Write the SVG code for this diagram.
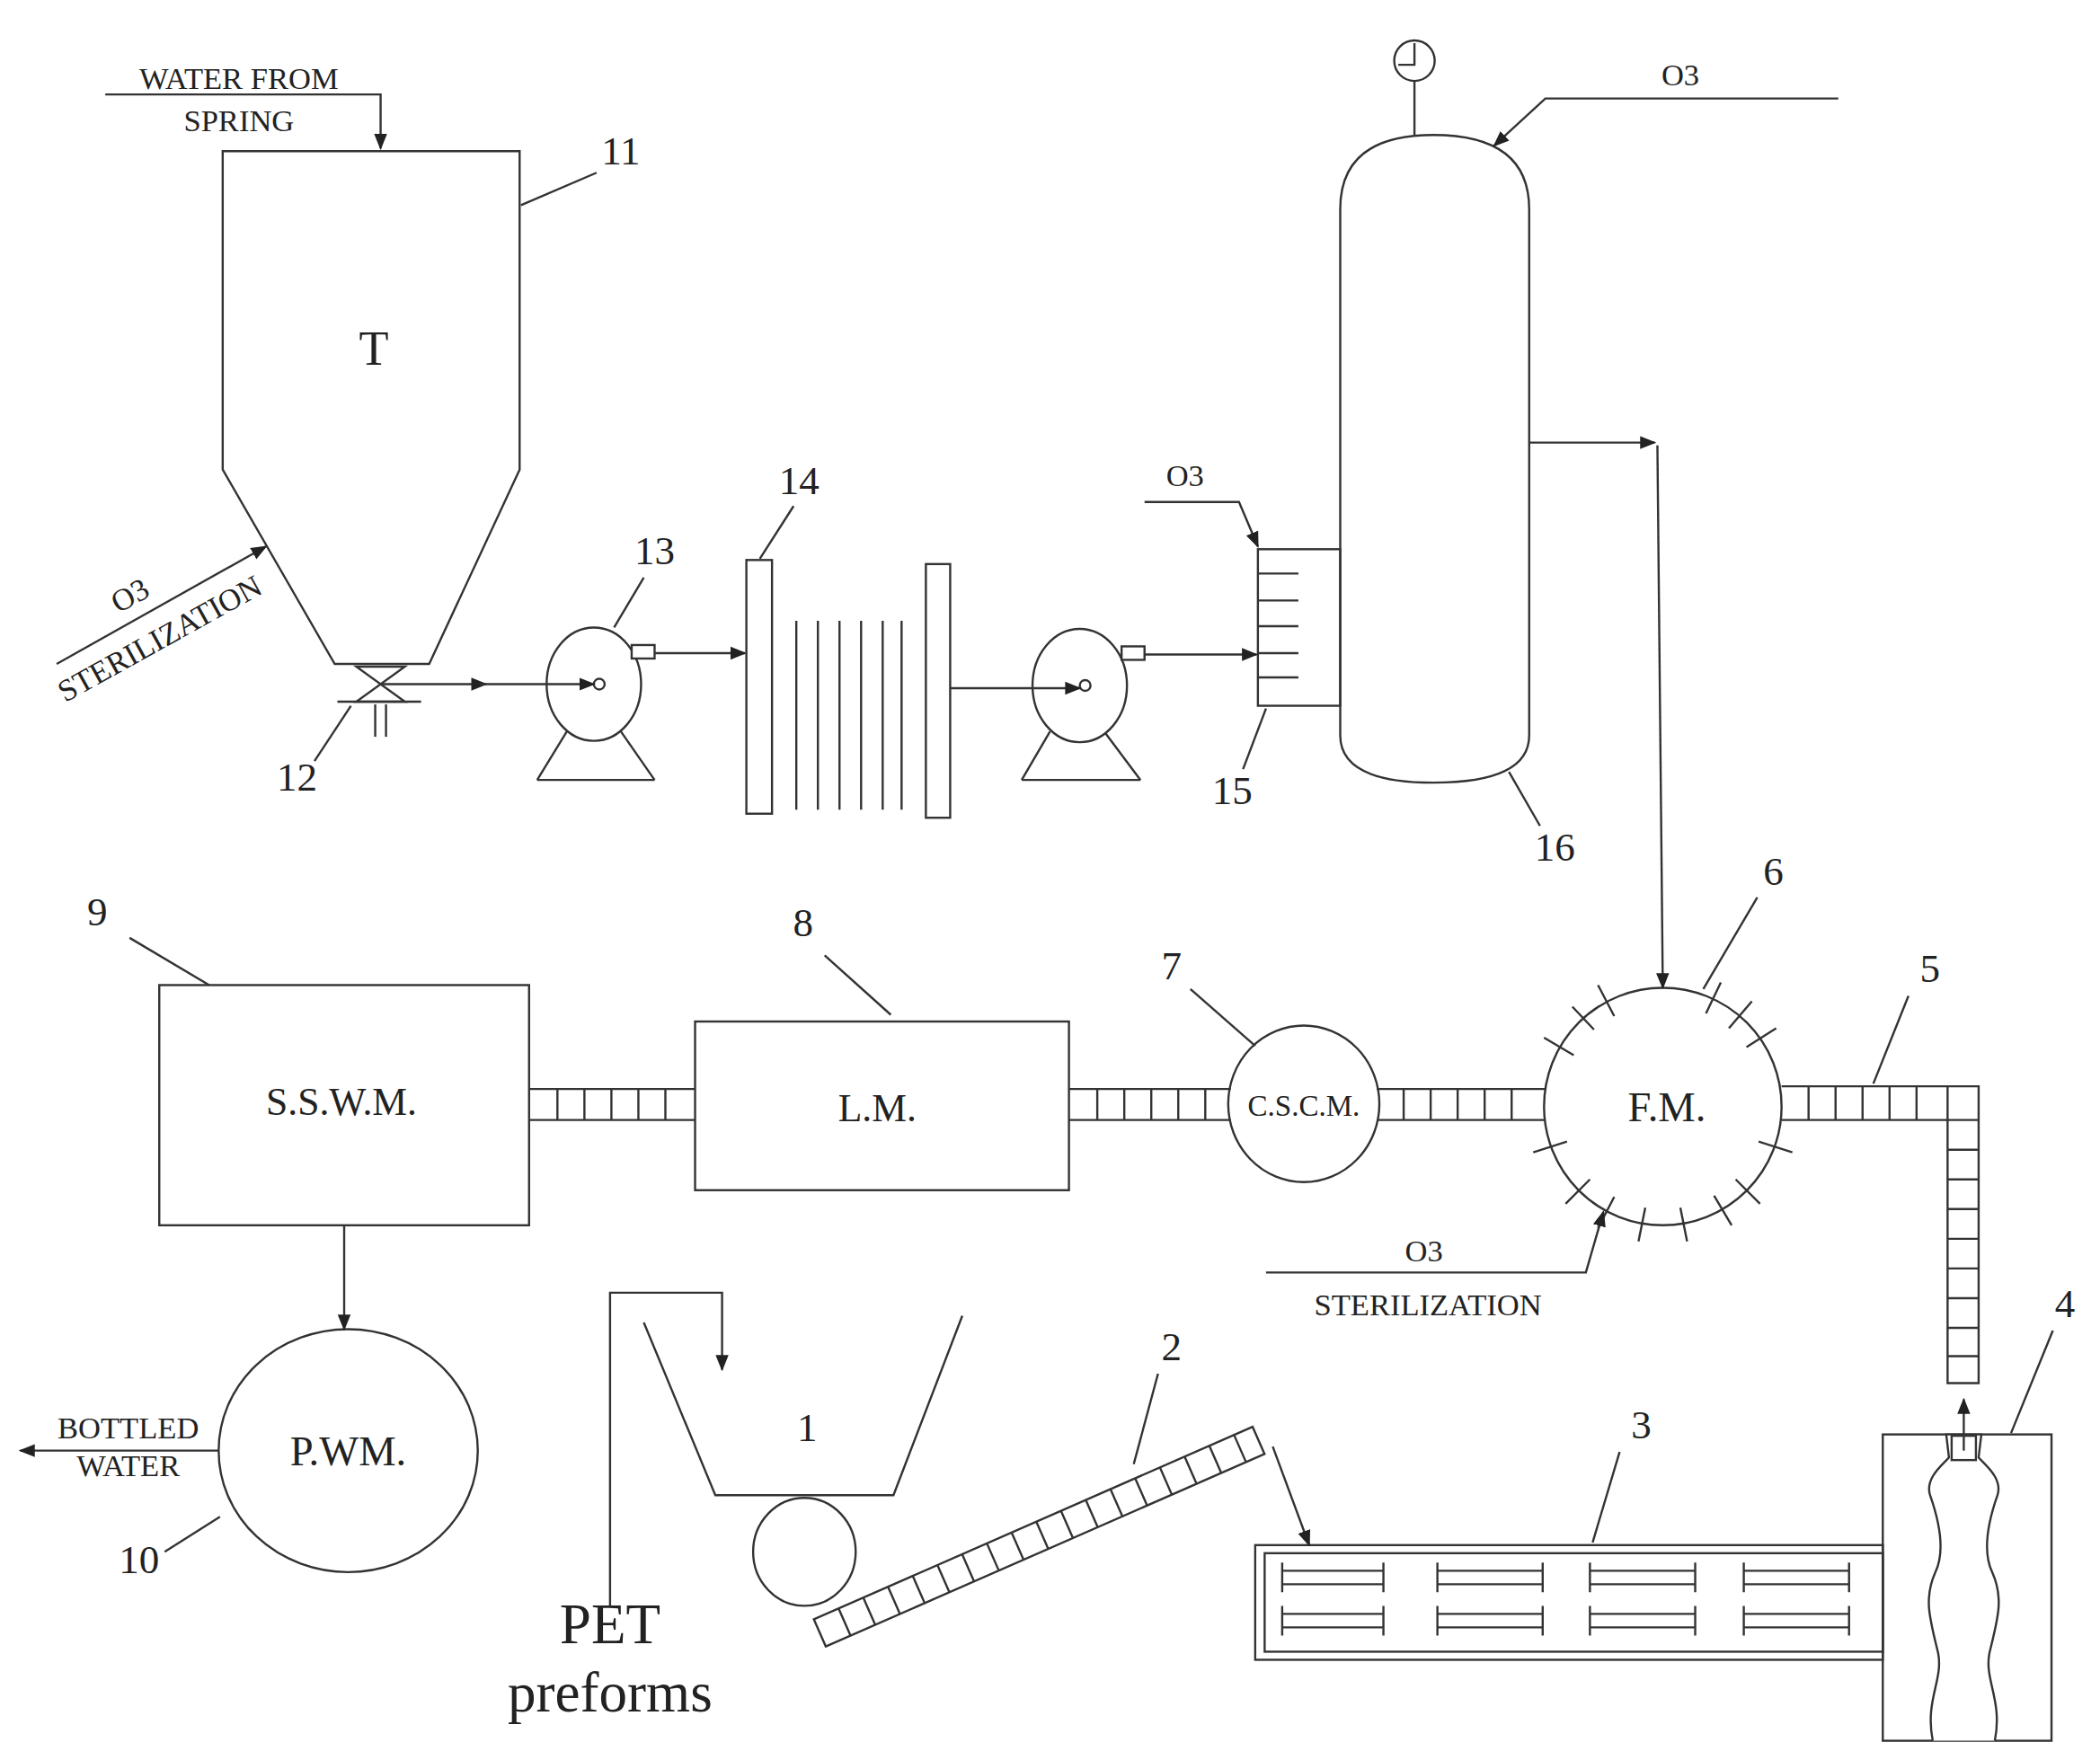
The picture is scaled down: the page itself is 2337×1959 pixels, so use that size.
<svg xmlns="http://www.w3.org/2000/svg" width="2337" height="1959" viewBox="0 0 2337 1959">
<style>
.s{fill:none;stroke:#333;stroke-width:1.6}
.w{fill:#fff;stroke:#333;stroke-width:1.6}
text{font-family:"Liberation Serif",serif;fill:#222}
.n{font-size:30px}
.l{font-size:29px}
.m{font-size:23px}
</style>
<defs>
<marker id="a" viewBox="0 0 10 10" refX="9" refY="5" markerWidth="12" markerHeight="12" markerUnits="userSpaceOnUse" orient="auto"><path d="M0,1 L10,5 L0,9 Z" fill="#222"/></marker>
</defs>
<rect width="2337" height="1959" fill="#fff"/>
<g transform="scale(1.502)">
<g id="tank11">
<polygon class="s" points="165,112 385,112 385,348 318,492 248,492 165,348"/>
<text x="277" y="270" font-size="36" text-anchor="middle">T</text>
<text class="n" x="460" y="122" text-anchor="middle">11</text>
<line class="s" x1="386" y1="152" x2="442" y2="128"/>
</g>
<g id="valve12">
<path class="s" d="M264,494 L300,494 L264,520 L300,520 Z"/>
<line class="s" x1="250" y1="520" x2="312" y2="520"/>
<line class="s" x1="278" y1="522" x2="278" y2="546"/><line class="s" x1="286" y1="522" x2="286" y2="546"/>
<text class="n" x="220" y="586" text-anchor="middle">12</text>
<line class="s" x1="233" y1="564" x2="260" y2="523"/>
</g>
<g id="pump13">
<line class="s" x1="420" y1="542" x2="398" y2="578"/><line class="s" x1="460" y1="542" x2="485" y2="578"/><line class="s" x1="398" y1="578" x2="485" y2="578"/>
<ellipse class="w" cx="440" cy="507" rx="35" ry="42"/>
<circle class="s" cx="444" cy="507" r="4"/>
<rect class="w" x="468" y="478" width="17" height="10"/>
<text class="n" x="485" y="418" text-anchor="middle">13</text>
<line class="s" x1="477" y1="428" x2="455" y2="465"/>
</g>
<g id="filter14">
<rect class="s" x="553" y="415" width="19" height="188"/>
<rect class="s" x="686" y="418" width="18" height="188"/>
<path class="s" d="M590,460V600M606,460V600M622,460V600M638,460V600M654,460V600M668,460V600"/>
<text class="n" x="592" y="366" text-anchor="middle">14</text>
<line class="s" x1="588" y1="375" x2="563" y2="414"/>
</g>
<g id="pump2">
<line class="s" x1="778" y1="542" x2="757" y2="578"/><line class="s" x1="818" y1="542" x2="845" y2="578"/><line class="s" x1="757" y1="578" x2="845" y2="578"/>
<ellipse class="w" cx="800" cy="508" rx="35" ry="42"/>
<circle class="s" cx="804" cy="508" r="4"/>
<rect class="w" x="831" y="479" width="17" height="10"/>
</g>
<g id="ozonator15">
<rect class="s" x="932" y="407" width="61" height="116"/>
<path class="s" d="M932,425H962M932,445H962M932,464H962M932,484H962M932,502H962"/>
<text class="n" x="913" y="596" text-anchor="middle">15</text>
<line class="s" x1="921" y1="570" x2="938" y2="525"/>
</g>
<g id="vessel16">
<path class="s" d="M993,155 Q993,100 1062,100 Q1133,100 1133,155 L1133,545 Q1133,580 1062,580 Q993,580 993,545 Z"/>
<circle class="s" cx="1048" cy="45" r="15"/>
<path class="s" d="M1048,32V48H1036M1048,60V100"/>
<text class="n" x="1152" y="638" text-anchor="middle">16</text>
<line class="s" x1="1118" y1="572" x2="1141" y2="612"/>
</g>
<g id="sswm9">
<rect class="s" x="118" y="730" width="274" height="178"/>
<text class="l" x="253" y="826" text-anchor="middle">S.S.W.M.</text>
<text class="n" x="72" y="686" text-anchor="middle">9</text>
<line class="s" x1="96" y1="695" x2="155" y2="730"/>
</g>
<g id="lm8">
<rect class="s" x="515" y="757" width="277" height="125"/>
<text class="l" x="650" y="831" text-anchor="middle">L.M.</text>
<text class="n" x="595" y="694" text-anchor="middle">8</text>
<line class="s" x1="611" y1="708" x2="660" y2="752"/>
</g>
<g id="cscm7">
<ellipse class="s" cx="966" cy="818" rx="56" ry="58"/>
<text x="966" y="827" font-size="22" text-anchor="middle">C.S.C.M.</text>
<text class="n" x="868" y="726" text-anchor="middle">7</text>
<line class="s" x1="882" y1="733" x2="930" y2="775"/>
</g>
<g id="fm6">
<circle class="s" cx="1232" cy="820" r="88"/>
<path class="s" d="M1166,782L1144,769M1181,763L1165,746M1196,753L1184,730M1264,751L1275,728M1281,762L1298,742M1294,776L1316,762M1303,846L1328,854M1286,874L1304,892M1270,886L1283,908M1245,895L1250,920M1219,895L1214,920M1196,887L1184,910M1178,874L1160,892M1161,846L1136,854"/>
<text x="1235" y="831" font-size="31" text-anchor="middle">F.M.</text>
<text class="n" x="1314" y="656" text-anchor="middle">6</text>
<line class="s" x1="1302" y1="665" x2="1262" y2="733"/>
</g>
<g id="pwm10">
<ellipse class="s" cx="258" cy="1075" rx="96" ry="90"/>
<text x="258" y="1086" font-size="31" text-anchor="middle">P.WM.</text>
<text class="n" x="103" y="1166" text-anchor="middle">10</text>
<line class="s" x1="122" y1="1150" x2="163" y2="1124"/>
<text class="m" x="95" y="1066" text-anchor="middle">BOTTLED</text>
<text class="m" x="95" y="1094" text-anchor="middle">WATER</text>
</g>
<g id="hopper1">
<path class="s" d="M477,980L530,1108H662L713,975"/>
<text class="n" x="598" y="1068" text-anchor="middle">1</text>
<ellipse class="s" cx="596" cy="1150" rx="38" ry="40"/>
<text x="452" y="1218" font-size="42" text-anchor="middle">PET</text>
<text x="452" y="1268" font-size="42" text-anchor="middle">preforms</text>
</g>
<g id="conveyor2">
<g transform="translate(603,1200) rotate(-23.7)">
<rect class="w" x="0" y="0" width="355" height="22"/>
<path class="s" d="M20,0V22M40,0V22M60,0V22M80,0V22M100,0V22M120,0V22M140,0V22M160,0V22M180,0V22M200,0V22M220,0V22M240,0V22M260,0V22M280,0V22M300,0V22M320,0V22M340,0V22"/>
</g>
<text class="n" x="868" y="1008" text-anchor="middle">2</text>
<line class="s" x1="858" y1="1018" x2="840" y2="1085"/>
</g>
<g id="conveyor3">
<rect class="s" x="930" y="1145" width="465" height="85"/>
<rect class="s" x="937" y="1151" width="458" height="73"/>
<path class="s" d="M950,1158V1180M1025,1158V1180M950,1164H1025M950,1174H1025M950,1190V1212M1025,1190V1212M950,1196H1025M950,1206H1025"/>
<path class="s" d="M1065,1158V1180M1143,1158V1180M1065,1164H1143M1065,1174H1143M1065,1190V1212M1143,1190V1212M1065,1196H1143M1065,1206H1143"/>
<path class="s" d="M1178,1158V1180M1256,1158V1180M1178,1164H1256M1178,1174H1256M1178,1190V1212M1256,1190V1212M1178,1196H1256M1178,1206H1256"/>
<path class="s" d="M1292,1158V1180M1370,1158V1180M1292,1164H1370M1292,1174H1370M1292,1190V1212M1370,1190V1212M1292,1196H1370M1292,1206H1370"/>
<text class="n" x="1216" y="1066" text-anchor="middle">3</text>
<line class="s" x1="1200" y1="1076" x2="1180" y2="1143"/>
</g>
<g id="blow4">
<rect class="s" x="1395" y="1063" width="125" height="227"/>
<path fill="#fff" stroke="#333" stroke-width="1.6" d="M1432,1290 C1426,1260 1440,1245 1436,1225 C1430,1200 1425,1185 1434,1165 C1442,1148 1436,1125 1430,1108 C1426,1095 1440,1085 1444,1080 L1442,1063 L1468,1063 L1466,1080 C1470,1085 1484,1095 1480,1108 C1474,1125 1468,1148 1476,1165 C1485,1185 1480,1200 1474,1225 C1470,1245 1484,1260 1478,1290"/>
<rect class="s" x="1446" y="1064" width="18" height="18"/>
<text class="n" x="1530" y="976" text-anchor="middle">4</text>
<line class="s" x1="1521" y1="986" x2="1490" y2="1062"/>
</g>
<g id="connectors">
<path class="s" d="M78,70H282V110" marker-end="url(#a)"/>
<text class="m" x="177" y="66" text-anchor="middle">WATER FROM</text>
<text class="m" x="177" y="97" text-anchor="middle">SPRING</text>
<line class="s" x1="42" y1="492" x2="197" y2="405" marker-end="url(#a)"/>
<text class="m" transform="translate(100,448) rotate(-29)" text-anchor="middle">O3</text>
<text class="m" transform="translate(122,480) rotate(-29)" text-anchor="middle">STERILIZATION</text>
<line class="s" x1="282" y1="507" x2="360" y2="507" marker-end="url(#a)"/>
<line class="s" x1="355" y1="507" x2="440" y2="507" marker-end="url(#a)"/>
<line class="s" x1="485" y1="484" x2="552" y2="484" marker-end="url(#a)"/>
<line class="s" x1="704" y1="510" x2="800" y2="510" marker-end="url(#a)"/>
<line class="s" x1="848" y1="485" x2="931" y2="485" marker-end="url(#a)"/>
<path class="s" d="M848,372H918L932,405" marker-end="url(#a)"/>
<text class="m" x="878" y="360" text-anchor="middle">O3</text>
<path class="s" d="M1362,73H1145L1107,108" marker-end="url(#a)"/>
<text class="m" x="1245" y="63" text-anchor="middle">O3</text>
<line class="s" x1="1133" y1="328" x2="1226" y2="328" marker-end="url(#a)"/>
<line class="s" x1="1228" y1="330" x2="1232" y2="732" marker-end="url(#a)"/>
<path class="s" d="M938,943H1175L1188,898" marker-end="url(#a)"/>
<text class="m" x="1055" y="935" text-anchor="middle">O3</text>
<text class="m" x="1058" y="975" text-anchor="middle">STERILIZATION</text>
<line class="s" x1="255" y1="908" x2="255" y2="985" marker-end="url(#a)"/>
<line class="s" x1="162" y1="1075" x2="15" y2="1075" marker-end="url(#a)"/>
<path class="s" d="M452,1190V958H535V1015" marker-end="url(#a)"/>
<line class="s" x1="943" y1="1072" x2="970" y2="1145" marker-end="url(#a)"/>
<line class="s" x1="1455" y1="1075" x2="1455" y2="1037" marker-end="url(#a)"/>
<path class="s" d="M392,807H515M392,830H515M413,807V830M433,807V830M453,807V830M473,807V830M493,807V830"/>
<path class="s" d="M792,807H912M792,830H912M813,807V830M833,807V830M853,807V830M873,807V830M893,807V830"/>
<path class="s" d="M1020,807H1145M1020,830H1145M1040,807V830M1060,807V830M1080,807V830M1100,807V830M1120,807V830"/>
<path class="s" d="M1320,805H1466V1025H1443V830H1320M1340,805V830M1360,805V830M1380,805V830M1400,805V830M1420,805V830M1443,805V830H1466M1443,852H1466M1443,874H1466M1443,896H1466M1443,918H1466M1443,940H1466M1443,962H1466M1443,984H1466M1443,1005H1466"/>
<text class="n" x="1430" y="728" text-anchor="middle">5</text>
<line class="s" x1="1414" y1="738" x2="1388" y2="803"/>
</g>
</g>
</svg>
